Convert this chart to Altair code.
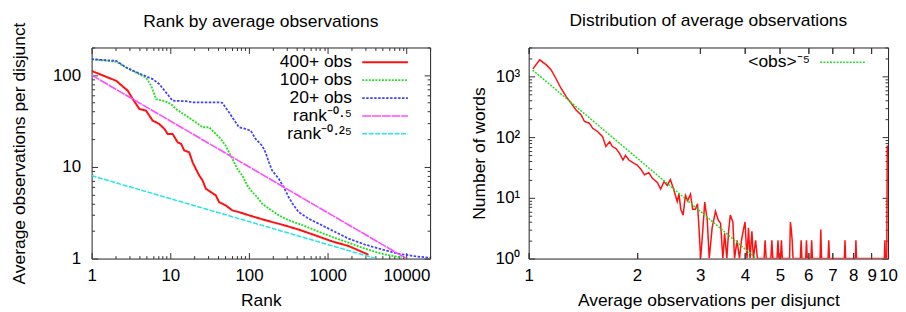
import altair as alt
import pandas as pd

FONT = "Liberation Sans"
FS = 17.5      # titles, legend
FL = 17        # tick labels
W1, W2, H = 340, 361, 212

# ---------------- left panel data ----------------
rank_400 = [1, 2.05, 2.88, 3.33, 4.05, 4.92, 5.97, 7.25, 8.4, 9.26, 10.7, 12.4, 13.7, 15.0, 17.4,
            19.2, 21.1, 23.3, 25.7, 28.3, 32.8, 37.9, 41.6, 50.5, 61.5, 74.6, 100, 163, 264, 428,
            697, 1132, 1840, 3300]
avg_400 = [111, 86.8, 67.6, 54.8, 42.7, 40.9, 31.9, 29.3, 25.9, 22.8, 22.8, 18.5, 17.8, 15.1, 14.4,
           11.2, 9.5, 8.05, 7.1, 5.77, 5.3, 4.88, 4.13, 3.8, 3.35, 3.21, 2.96, 2.61, 2.34, 2.07,
           1.79, 1.54, 1.37, 1.1]

rank_100 = [1, 2.05, 2.75, 4.05, 4.92, 5.7, 6.6, 8.8, 10.2, 11.8, 15.8, 21.1, 25.7, 31, 37.9, 43.6,
            50.5, 61.5, 71, 82, 95, 110, 127, 147, 179, 239, 318, 428, 697, 1132, 1840, 2980, 4840,
            7870, 8700]
avg_100 = [149, 140, 121, 102, 94, 76.6, 54.8, 51.3, 48.4, 42.7, 36.1, 30.6, 27, 27, 22.8, 20.2,
           17, 12.2, 9.5, 8.05, 6.27, 5.3, 4.68, 3.96, 3.5, 2.96, 2.61, 2.4, 2.03, 1.72, 1.49, 1.28,
           1.13, 1.04, 1.02]

rank_20 = [1, 2.05, 2.75, 4.05, 5.97, 7.25, 8.8, 10.7, 15.8, 19.2, 28.3, 41.6, 45.7, 55.6, 74.6,
           90.6, 105, 121, 147, 162, 179, 197, 239, 276, 318, 369, 428, 572, 768, 1132, 1840, 2980,
           4840, 7870, 12800, 20000]
avg_20 = [149, 143, 121, 104, 90.5, 79.8, 64.9, 52.6, 51.9, 50.4, 50.4, 50.4, 49.9, 39.3, 27,
          25.9, 24.8, 20.2, 17, 14.4, 11.2, 9.1, 7.4, 6.0, 4.68, 3.8, 3.21, 2.72, 2.4, 2.03, 1.65,
          1.42, 1.26, 1.13, 1.06, 1.02]

rank_p05 = [1, 10000]
avg_p05 = [100, 1]
rank_p025 = [1, 4096]
avg_p025 = [8, 1]

left_labels = ["400+ obs", "100+ obs", "20+ obs", "rank\u207b\u2070\u00b7\u2075", "rank\u207b\u2070\u00b7\u00b2\u2075"]
left_colors = ["#ff1111", "#22e022", "#3f3fff", "#ff4cff", "#22e6e6"]
left_dashes = [[1, 0], [2, 1.3], [2.5, 1.5], [9, 0.8], [5, 1.5]]
left_widths = [2, 1.5, 1.5, 1.5, 1.5]

# ---------------- right panel data ----------------
obs_x = [1.028, 1.073, 1.12, 1.155, 1.19, 1.23, 1.272, 1.313, 1.355, 1.40, 1.43, 1.475, 1.507,
         1.555, 1.606, 1.64, 1.68, 1.71, 1.75, 1.79, 1.83, 1.86, 1.9, 1.95, 2.0, 2.05, 2.1, 2.16,
         2.21, 2.28, 2.33, 2.38, 2.43, 2.48, 2.54, 2.59, 2.62, 2.65, 2.69, 2.73, 2.77, 2.82, 2.86,
         2.91, 2.95, 2.98, 3.01, 3.05, 3.09, 3.14, 3.18, 3.24, 3.31, 3.37, 3.42, 3.47, 3.51, 3.56,
         3.6, 3.64, 3.7, 3.74, 3.8, 3.86, 3.91, 3.96, 4.0, 4.05, 4.09, 4.13, 4.18, 4.22, 4.28, 4.33,
         4.52, 4.55, 4.58, 4.72, 4.75, 4.78, 4.91, 4.94, 4.97, 5.02, 5.05, 5.08, 5.32, 5.35, 5.38,
         5.41, 5.44, 5.70, 5.73, 5.76, 5.90, 5.93, 5.96, 6.10, 6.13, 6.16, 6.47, 6.5, 6.53, 6.81,
         6.84, 6.87, 7.56, 7.59, 7.62, 8.11, 8.14, 8.17, 9.77, 9.8, 9.83, 9.92, 9.95]
words_y = [1334, 1876, 1550, 1283, 935, 640, 466, 362, 281, 233, 181, 170, 140, 124, 102, 70, 84,
           70, 65, 54, 42, 50, 42, 38, 35, 30, 24, 26, 21, 18, 14, 18.5, 16, 20, 13, 8.7, 11.5,
           6.5, 5.2, 11, 9, 11.5, 6.5, 6.5, 8, 3, 1, 2.8, 8.5, 4.3, 1, 3.2, 6, 4.3, 3.8, 1, 2.6,
           1, 2.8, 5.2, 4, 1, 2, 1, 2, 3, 4, 1, 3.2, 1, 2.8, 1, 2, 1,
           1, 2, 1, 1, 2, 1, 1, 2, 1, 1, 2, 1, 1, 4, 3,
           2, 1, 1, 2, 1, 1, 2, 1, 1, 2, 1, 1, 3, 1, 1,
           2, 1, 1, 2, 1, 1, 2, 1, 1, 2, 1, 1, 73]

fit_x = [1.026, 4.3]
fit_y = [1275, 1]
fit_label = ["<obs>\u207b\u2075"]

# ---------------- tick positions ----------------
lx_major = [1, 10, 100, 1000, 10000]
lx_minor = [m * 10 ** e for e in range(5) for m in range(2, 10) if m * 10 ** e <= 20000]
ly_major = [1, 10, 100]
ly_minor = [m * 10 ** e for e in range(3) for m in range(2, 10) if m * 10 ** e <= 200]
rx_major = [1, 2, 3, 4, 5, 6, 7, 8, 9, 10]
ry_major = [1, 10, 100, 1000]
ry_minor = [m * 10 ** e for e in range(4) for m in range(2, 10) if m * 10 ** e <= 3000]

# ---------------- frames ----------------
rows = []
for lab, xs, ys in zip(left_labels, [rank_400, rank_100, rank_20, rank_p05, rank_p025],
                       [avg_400, avg_100, avg_20, avg_p05, avg_p025]):
    for a, b in zip(xs, ys):
        rows.append({"x": a, "y": b, "series": lab})
left_df = pd.DataFrame(rows)
red_df = pd.DataFrame({"x": obs_x, "y": words_y})
fit_df = pd.DataFrame({"x": fit_x, "y": fit_y, "series": fit_label * len(fit_x)})


def tick_axis(orient, offset, values, size):
    return alt.Axis(orient=orient, offset=offset, values=values, labels=False, title=None,
                    domain=False, grid=False, ticks=True, tickColor="#333", tickWidth=1,
                    tickSize=size, minExtent=0, maxExtent=0)


# legend sample: a horizontal path, scaled by sqrt(size)/2 -> ~46 px long
SYM = "M-3.33,0H3.33"
SYM_SIZE = 190


def legend(lx, ly):
    return alt.Legend(title=None, orient="none", legendX=lx, legendY=ly, symbolType=SYM,
                      symbolSize=SYM_SIZE, symbolStrokeWidth=1.5, labelFont=FONT, labelFontSize=FS,
                      labelColor="#000", labelAlign="right", labelOffset={"expr": "-42"},
                      rowPadding={"expr": "-1.5"}, padding=0)


def ghosts(df, xscale, yscale, W, xmaj, xmin_, ymaj, ymin_):
    out = []
    for xo, yo in [("top", "right"), ("bottom", "left")]:
        for xv, yv, sz in [(xmaj, ymaj, 6), (xmin_, ymin_, 3)]:
            out.append(alt.Chart(df).mark_point(opacity=0).encode(
                x=alt.X("x:Q", scale=xscale,
                        axis=tick_axis(xo, -H, xv if xv else xmaj, sz if xv else 6)),
                y=alt.Y("y:Q", scale=yscale, axis=tick_axis(yo, -W, yv, sz)),
            ))
    return out


lab_common = dict(domain=False, grid=False, ticks=False, labelOverlap=False, labelFlush=False,
                  labelFont=FONT, labelFontSize=FL, titleFont=FONT, titleFontSize=FS,
                  titleFontWeight="normal", labelColor="#000", titleColor="#000")

# ---------------- left chart ----------------
lxs = alt.Scale(type="log", domain=[1, 20000], nice=False)
lys = alt.Scale(type="log", domain=[1, 200], nice=False)
left_lines = alt.Chart(left_df).mark_line(clip=True).encode(
    x=alt.X("x:Q", scale=lxs, axis=alt.Axis(orient="bottom", title="Rank", values=lx_major,
                                             format="d", labelPadding=9, titlePadding=8, **lab_common)),
    y=alt.Y("y:Q", scale=lys, axis=alt.Axis(orient="left", title="Average observations per disjunct",
                                             values=ly_major, format="d", labelPadding=11,
                                             titlePadding=24, **lab_common)),
    color=alt.Color("series:N", scale=alt.Scale(domain=left_labels, range=left_colors),
                    legend=legend(W1 - 54, 6)),
    strokeDash=alt.StrokeDash("series:N", scale=alt.Scale(domain=left_labels, range=left_dashes),
                              legend=legend(W1 - 54, 6)),
    strokeWidth=alt.StrokeWidth("series:N", scale=alt.Scale(domain=left_labels, range=left_widths),
                                legend=None),
)
left = alt.layer(left_lines, *ghosts(left_df, lxs, lys, W1, lx_major, lx_minor, ly_major, ly_minor)).resolve_axis(
    x="independent", y="independent").properties(
    width=W1, height=H,
    title=alt.TitleParams("Rank by average observations", font=FONT, fontSize=FS,
                          fontWeight="normal", color="#000", anchor="middle", offset=-9))

# ---------------- right chart ----------------
rxs = alt.Scale(type="log", domain=[1, 10], nice=False)
rys = alt.Scale(type="log", domain=[1, 3000], nice=False)
ylab = ("datum.value == 1 ? '10\u2070' : datum.value == 10 ? '10\u00b9' : "
        "datum.value == 100 ? '10\u00b2' : '10\u00b3'")
red_line = alt.Chart(red_df).mark_line(clip=True, color="#ff1111", strokeWidth=1.5).encode(
    x=alt.X("x:Q", scale=rxs, axis=alt.Axis(orient="bottom", title="Average observations per disjunct",
                                             values=rx_major, format="d", labelPadding=9,
                                             titlePadding=8, **lab_common)),
    y=alt.Y("y:Q", scale=rys, axis=alt.Axis(orient="left", title="Number of words", values=ry_major,
                                             labelExpr=ylab, labelPadding=9, titlePadding=6,
                                             **lab_common)),
)
fit_line = alt.Chart(fit_df).mark_line(clip=True, strokeWidth=1.5).encode(
    x=alt.X("x:Q", scale=rxs, axis=None),
    y=alt.Y("y:Q", scale=rys, axis=None),
    color=alt.Color("series:N", scale=alt.Scale(domain=fit_label, range=["#22e022"]),
                    legend=legend(W2 - 54, 6)),
    strokeDash=alt.StrokeDash("series:N", scale=alt.Scale(domain=fit_label, range=[[2, 1.3]]),
                              legend=legend(W2 - 54, 6)),
)
right = alt.layer(red_line, fit_line, *ghosts(red_df, rxs, rys, W2, rx_major, [], ry_major, ry_minor)).resolve_axis(
    x="independent", y="independent").properties(
    width=W2, height=H,
    title=alt.TitleParams("Distribution of average observations", font=FONT, fontSize=FS,
                          fontWeight="normal", color="#000", anchor="middle", offset=18))

chart = alt.hconcat(left, right, spacing=36).resolve_scale(
    color="independent", strokeDash="independent", strokeWidth="independent"
).properties(padding={"left": 2, "top": 2, "right": 0, "bottom": 0}).configure(
    font=FONT
).configure_view(stroke="#222", strokeWidth=1)

chart.save("out.html", embed_options={"renderer": "svg", "actions": False})
